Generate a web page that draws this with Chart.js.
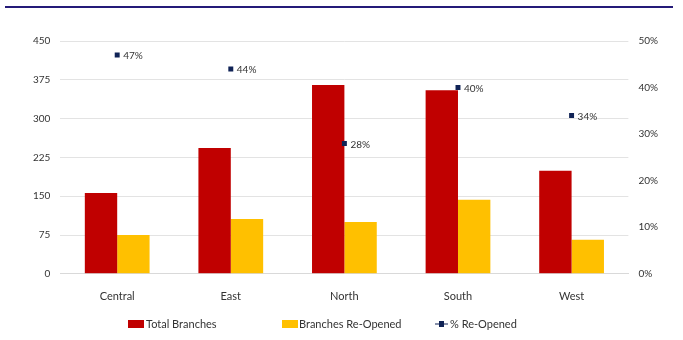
<!DOCTYPE html>
<html>
<head>
<meta charset="utf-8">
<script src="https://cdn.jsdelivr.net/npm/chart.js@4.4.1/dist/chart.umd.min.js"></script>
<style>
  html, body { margin: 0; padding: 0; background: #fff; }
  #wrap { position: relative; width: 683px; height: 340px; }
  #topline { position: absolute; left: 5px; top: 6px; width: 668px; height: 2px; background: #241a78; }
</style>
</head>
<body>
<div id="wrap">
  <div id="topline"></div>
  <canvas id="chart" width="683" height="340"></canvas>
</div>
<script>
// ---------------------- Data ----------------------
const regions = ["Central", "East", "North", "South", "West"];
const totalBranches = [156, 243, 365, 355, 199];
const reopenedBranches = [75, 106, 100, 143, 66];
const pctReopened = [47, 44, 28, 40, 34];
const leftTicks = [0, 75, 150, 225, 300, 375, 450];
const rightTicks = [0, 10, 20, 30, 40, 50];

const RED = "#c00000";
const YELLOW = "#ffc000";
const NAVY = "#102356";
const TEXT = "#333333";
const FONT = "Lato, 'Open Sans', sans-serif";

// labels next to the % markers
const pointLabels = {
  id: "pointLabels",
  afterDatasetsDraw(chart) {
    const { ctx } = chart;
    const meta = chart.getDatasetMeta(2);
    ctx.save();
    ctx.font = `10px ${FONT}`;
    ctx.fillStyle = TEXT;
    ctx.textBaseline = "middle";
    meta.data.forEach((pt, i) => {
      ctx.fillText(pctReopened[i] + "%", pt.x + 6, pt.y + 1);
    });
    ctx.restore();
  }
};

// legend drawn by hand so spacing matches
const bottomLegend = {
  id: "bottomLegend",
  afterDraw(chart) {
    const { ctx } = chart;
    const y = 324;
    ctx.save();
    ctx.font = `11px ${FONT}`;
    ctx.textBaseline = "middle";

    ctx.fillStyle = RED;
    ctx.fillRect(128, y - 4, 16, 8);
    ctx.fillStyle = TEXT;
    ctx.fillText("Total Branches", 146, y);

    ctx.fillStyle = YELLOW;
    ctx.fillRect(282, y - 4, 16, 8);
    ctx.fillStyle = TEXT;
    ctx.fillText("Branches Re-Opened", 299, y);

    ctx.strokeStyle = NAVY;
    ctx.lineWidth = 1;
    ctx.beginPath();
    ctx.moveTo(435, y);
    ctx.lineTo(448, y);
    ctx.stroke();
    ctx.fillStyle = NAVY;
    ctx.fillRect(439, y - 3, 5, 6);
    ctx.fillStyle = TEXT;
    ctx.fillText("% Re-Opened", 450, y);
    ctx.restore();
  }
};

new Chart(document.getElementById("chart"), {
  data: {
    labels: regions,
    datasets: [
      {
        type: "bar",
        label: "Total Branches",
        data: totalBranches,
        backgroundColor: RED,
        yAxisID: "y",
        categoryPercentage: 0.57,
        barPercentage: 1,
        order: 2
      },
      {
        type: "bar",
        label: "Branches Re-Opened",
        data: reopenedBranches,
        backgroundColor: YELLOW,
        yAxisID: "y",
        categoryPercentage: 0.57,
        barPercentage: 1,
        order: 2
      },
      {
        type: "line",
        label: "% Re-Opened",
        data: pctReopened,
        yAxisID: "y1",
        showLine: false,
        pointStyle: "rect",
        pointRadius: 3.5,
        backgroundColor: NAVY,
        borderColor: NAVY,
        borderWidth: 0,
        order: 1
      }
    ]
  },
  options: {
    responsive: false,
    animation: false,
    layout: { padding: { left: 23, right: 15, top: 41, bottom: 29 } },
    plugins: {
      legend: { display: false },
      tooltip: { enabled: false }
    },
    scales: {
      x: {
        grid: { display: false },
        border: { color: "#d9d9d9" },
        ticks: { color: TEXT, font: { family: FONT, size: 11 }, padding: 8 }
      },
      y: {
        position: "left",
        min: 0,
        max: 450,
        afterBuildTicks: axis => { axis.ticks = leftTicks.map(v => ({ value: v })); },
        grid: { color: "#e3e3e3", drawTicks: false },
        border: { display: false },
        ticks: { color: TEXT, font: { family: FONT, size: 10 }, padding: 10 }
      },
      y1: {
        position: "right",
        min: 0,
        max: 50,
        afterBuildTicks: axis => { axis.ticks = rightTicks.map(v => ({ value: v })); },
        grid: { display: false, drawTicks: false },
        border: { display: false },
        ticks: {
          color: TEXT,
          font: { family: FONT, size: 10 },
          padding: 10,
          callback: v => v + "%"
        }
      }
    }
  },
  plugins: [pointLabels, bottomLegend]
});
</script>
</body>
</html>
